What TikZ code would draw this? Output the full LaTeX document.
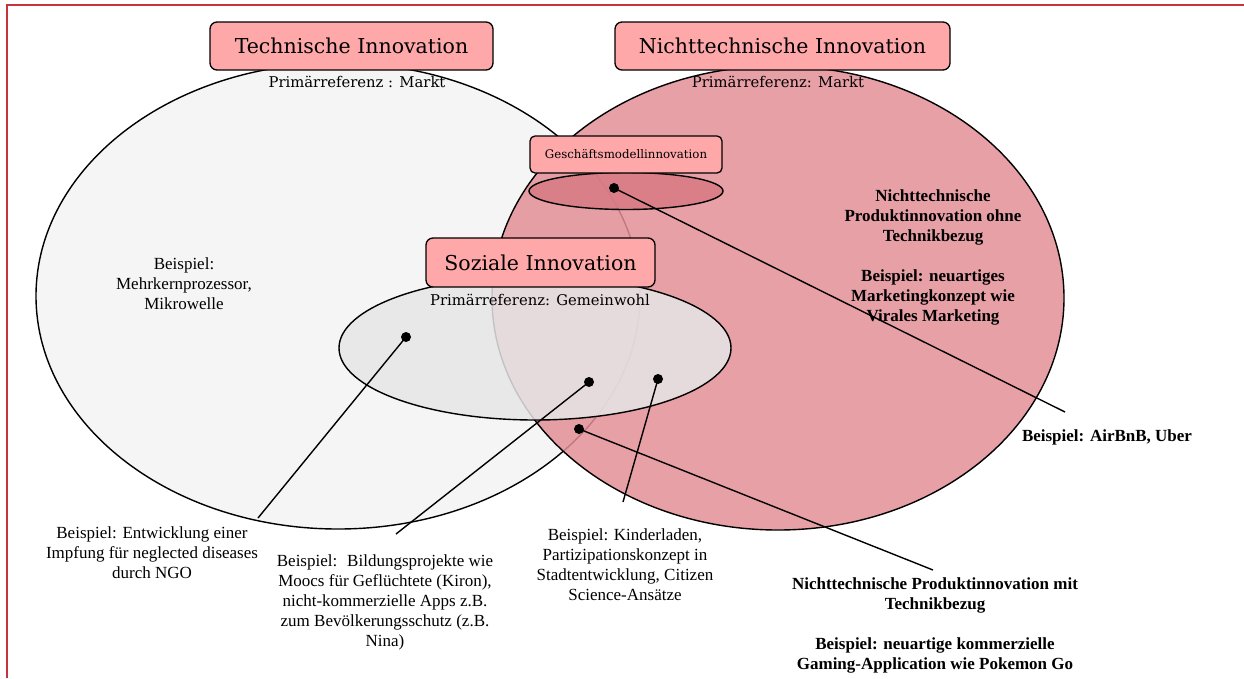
\documentclass[tikz,border=0pt]{standalone}
\usepackage{fontspec}
\setmainfont{Liberation Serif}
\newfontfamily\titlefont{DejaVu Serif}
\definecolor{boxpink}{RGB}{255,168,170}
\definecolor{venngray}{RGB}{245,245,245}
\definecolor{vennpink}{RGB}{226,143,150}
\definecolor{sozgray}{RGB}{230,230,230}
\definecolor{gmpink}{RGB}{216,122,131}
\definecolor{framered}{RGB}{200,50,60}

\begin{document}
\begin{tikzpicture}[x=1pt, y=-1pt,
    titlebox/.style={draw, fill=boxpink, rounded corners=7pt, line width=1.3pt, inner sep=0pt,
        font=\titlefont\fontsize{20.5}{24}\selectfont},
    reftext/.style={font=\titlefont\fontsize{14.8}{18}\selectfont},
    example/.style={align=center, font=\fontsize{17}{20}\selectfont},
    examplebold/.style={align=center, font=\bfseries\fontsize{17}{20}\selectfont},
    dot/.style={circle, fill, inner sep=0pt, minimum size=10pt},
    pointer/.style={line width=1.4pt}]
    \useasboundingbox (0,0) rectangle (1244,678);
    \draw[framered, line width=2pt] (7,678) -- (7,5) -- (1244,5);

    \draw[line width=1.4pt, fill=venngray] (338,296) ellipse [x radius=302pt, y radius=233pt];
    \draw[line width=1.4pt, fill=vennpink, fill opacity=0.85] (778,298) ellipse [x radius=286pt, y radius=232pt];
    \draw[line width=1.4pt, fill=gmpink, fill opacity=0.85] (626,191) ellipse [x radius=97pt, y radius=18.5pt];
    \draw[line width=1.4pt, fill=sozgray, fill opacity=0.85] (535,348) ellipse [x radius=196pt, y radius=72pt];

    \node[titlebox, minimum width=283pt, minimum height=48pt] (tech) at (351.5,46) {Technische Innovation};
    \node[titlebox, minimum width=335pt, minimum height=48pt] (nontech) at (782.5,46) {Nichttechnische Innovation};
    \node[titlebox, minimum width=192pt, minimum height=37pt, rounded corners=5pt,
        font=\titlefont\fontsize{11.8}{14}\selectfont] (business) at (626,154.5) {Geschäftsmodellinnovation};
    \node[titlebox, minimum width=229pt, minimum height=49pt] (social) at (540.5,262.5) {Soziale Innovation};

    \node[reftext] (techref) at (357,82) {Primärreferenz : Markt};
    \node[reftext] (nontechref) at (778,82) {Primärreferenz: Markt};
    \node[reftext] (socialref) at (540,300) {Primärreferenz: Gemeinwohl};

    \node[example] (exprozessor) at (184,284) {Beispiel:\\Mehrkernprozessor,\\Mikrowelle};
    \node[example] (exngo) at (152,553) {Beispiel: Entwicklung einer\\Impfung für neglected diseases\\durch NGO};
    \node[example] (exbildung) at (385,602) {Beispiel:~ Bildungsprojekte wie\\Moocs für Geflüchtete (Kiron),\\nicht-kommerzielle Apps z.B.\\zum Bevölkerungsschutz (z.B.\\Nina)};
    \node[example] (exkinder) at (625,565) {Beispiel: Kinderladen,\\Partizipationskonzept in\\Stadtentwicklung, Citizen\\Science-Ansätze};
    \node[examplebold] (exmit) at (935,625) {Nichttechnische Produktinnovation mit\\Technikbezug\\[20pt]Beispiel: neuartige kommerzielle\\Gaming-Application wie Pokemon Go};
    \node[examplebold] (exohne) at (933,257) {Nichttechnische\\Produktinnovation ohne\\Technikbezug\\[20pt]Beispiel: neuartiges\\Marketingkonzept wie\\Virales Marketing};
    \node[examplebold] (exairbnb) at (1107,437) {Beispiel: AirBnB, Uber};

    \node[dot] (dbusiness) at (614,188) {};
    \node[dot] (dngo) at (406,337) {};
    \node[dot] (dbildung) at (589,382) {};
    \node[dot] (dkinder) at (658,379) {};
    \node[dot] (dgaming) at (579,429) {};

    \coordinate (eairbnb) at (1065,412);
    \coordinate (engo) at (258,518);
    \coordinate (ebildung) at (396,534);
    \coordinate (ekinder) at (623,502);
    \coordinate (egaming) at (933,570);

    \draw[pointer] (dbusiness.center) -- (eairbnb);
    \draw[pointer] (dngo.center) -- (engo);
    \draw[pointer] (dbildung.center) -- (ebildung);
    \draw[pointer] (dkinder.center) -- (ekinder);
    \draw[pointer] (dgaming.center) -- (egaming);
\end{tikzpicture}
\end{document}
